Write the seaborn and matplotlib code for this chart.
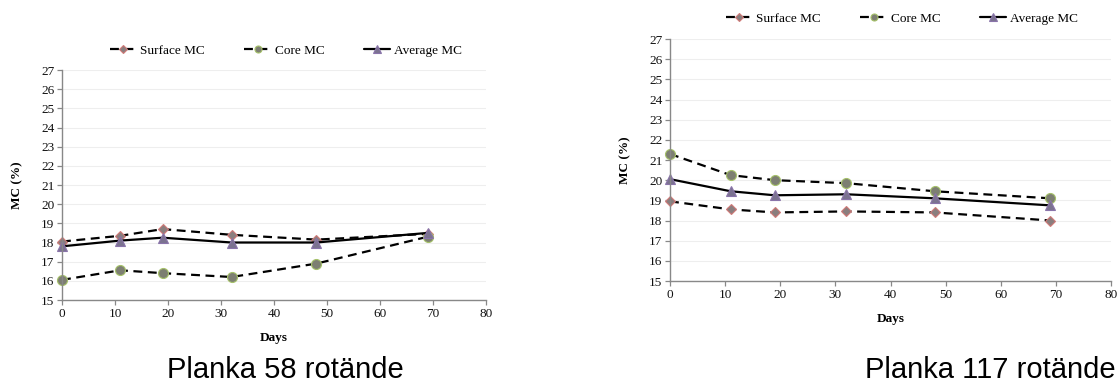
import matplotlib
matplotlib.use("Agg")
import matplotlib.pyplot as plt
import seaborn as sns
import numpy as np

days = [0, 11, 19, 32, 48, 69]

# Planka 58 rotände
p58_surface = [18.05, 18.35, 18.7, 18.4, 18.15, 18.45]
p58_core = [16.05, 16.55, 16.4, 16.2, 16.9, 18.3]
p58_average = [17.8, 18.1, 18.25, 18.0, 18.0, 18.5]

# Planka 117 rotände
p117_surface = [18.95, 18.55, 18.4, 18.45, 18.4, 18.0]
p117_core = [21.3, 20.25, 20.0, 19.85, 19.45, 19.1]
p117_average = [20.05, 19.45, 19.25, 19.3, 19.1, 18.75]

series_labels = ["Surface MC", "Core MC", "Average MC"]
panel_titles = ["Planka 58 rotände", "Planka 117 rotände"]
x_ticks = [0, 10, 20, 30, 40, 50, 60, 70, 80]
y_ticks = list(range(15, 28))

sns.set_theme(style="white")
plt.rcParams["font.family"] = ["Liberation Serif", "DejaVu Serif"]
plt.rcParams["text.color"] = "black"
plt.rcParams["axes.labelcolor"] = "black"

fig = plt.figure(figsize=(11.2, 3.83), dpi=100)

axes_rects = [
    [62 / 1120, 1 - 300 / 383, (486 - 62) / 1120, (300 - 70) / 383],
    [670 / 1120, 1 - 281 / 383, (1111 - 670) / 1120, (281 - 39) / 383],
]
legend_pos = [(286 / 1120, 1 - 51 / 383), (902 / 1120, 1 - 19 / 383)]
title_pos = [(285 / 1120, 1 - 370 / 383), (990 / 1120, 1 - 370 / 383)]

styles = [
    dict(marker="D", markersize=5.6, markerfacecolor="#8a7e7e", markeredgecolor="#d07a78",
         linestyle=(0, (4, 2.5)), markeredgewidth=0.8),
    dict(marker="o", markersize=7.2, markerfacecolor="#7d7f72", markeredgecolor="#a6c26a",
         linestyle=(0, (4, 2.5)), markeredgewidth=0.8),
    dict(marker="^", markersize=7.4, markerfacecolor="#7b7290", markeredgecolor="#8a74aa",
         linestyle="-", markeredgewidth=0.8),
]

panels = [
    (p58_surface, p58_core, p58_average),
    (p117_surface, p117_core, p117_average),
]

for i, data in enumerate(panels):
    ax = fig.add_axes(axes_rects[i])
    for vals, lab, st in zip(data, series_labels, styles):
        sns.lineplot(x=days, y=vals, ax=ax, color="black", linewidth=1.6, label=lab,
                     clip_on=False, **st)
    ax.set_xlim(0, 80)
    ax.set_ylim(15, 27)
    ax.set_xticks(x_ticks)
    ax.set_yticks(y_ticks)
    ax.tick_params(axis="both", labelsize=9.5, length=3.5, width=0.9,
                   direction="out", pad=2, colors="#888888", labelcolor="#111111")
    ax.xaxis.set_ticks_position("bottom")
    ax.yaxis.set_ticks_position("left")
    for s in ["top", "right"]:
        ax.spines[s].set_visible(False)
    for s in ["left", "bottom"]:
        ax.spines[s].set_color("#888888")
        ax.spines[s].set_linewidth(1.0)
    ax.yaxis.grid(True, color="#eeeeee", linewidth=0.8)
    ax.xaxis.grid(False)
    ax.set_axisbelow(True)
    ax.set_xlabel("Days", fontsize=9.5, fontweight="bold", labelpad=9)
    ax.set_ylabel("MC (%)", fontsize=9.5, fontweight="bold", labelpad=13)
    handles, labels = ax.get_legend_handles_labels()
    ax.get_legend().remove()
    fig.legend(handles, labels, loc="center", bbox_to_anchor=legend_pos[i],
               ncol=3, frameon=False, fontsize=9.5, handlelength=2.0,
               columnspacing=3.0, handletextpad=0.3, markerscale=0.7)
    fig.text(title_pos[i][0], title_pos[i][1], panel_titles[i], ha="center", va="center",
             fontsize=21, color="black", family=["Liberation Sans", "DejaVu Sans"])

fig.savefig("out.png", dpi=100)
